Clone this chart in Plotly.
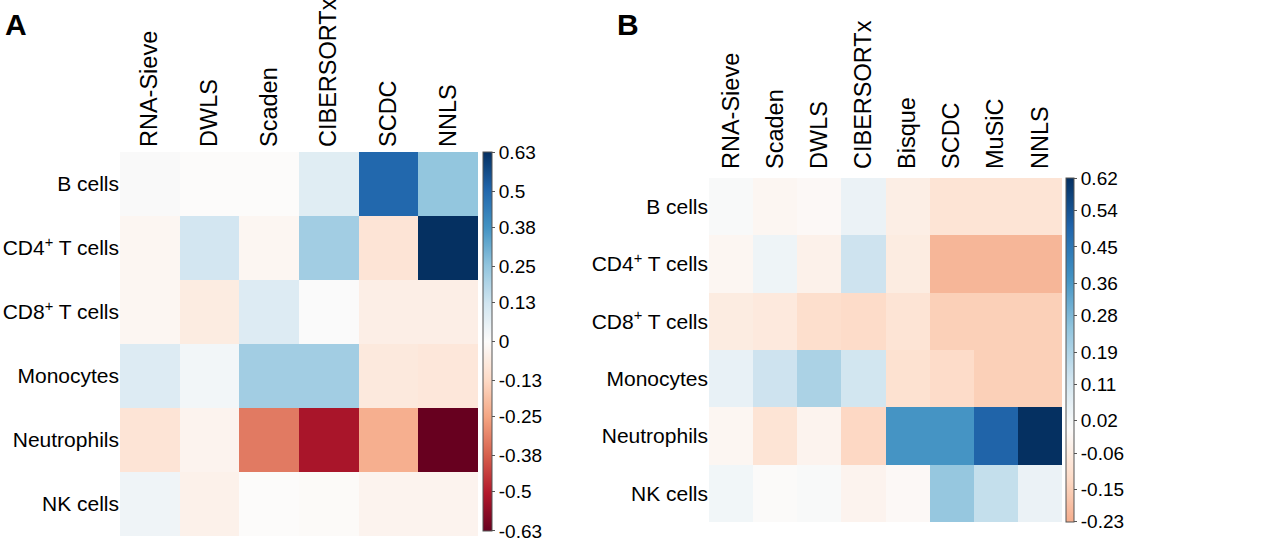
import plotly.graph_objects as go

# ---------------- data ----------------
cell_types = ["B cells", "CD4<sup>+</sup> T cells", "CD8<sup>+</sup> T cells",
              "Monocytes", "Neutrophils", "NK cells"]

methods_a = ["RNA-Sieve", "DWLS", "Scaden", "CIBERSORTx", "SCDC", "NNLS"]
values_a = [
    [0.01, 0.00, 0.00, 0.08, 0.50, 0.25],
    [-0.02, 0.12, -0.02, 0.22, -0.09, 0.63],
    [-0.02, -0.06, 0.09, 0.005, -0.05, -0.05],
    [0.09, 0.03, 0.22, 0.22, -0.07, -0.08],
    [-0.09, -0.03, -0.33, -0.52, -0.23, -0.63],
    [0.04, -0.04, 0.00, -0.005, -0.03, -0.03],
]
ticks_a = [-0.63, -0.5, -0.38, -0.25, -0.13, 0, 0.13, 0.25, 0.38, 0.5, 0.63]

methods_b = ["RNA-Sieve", "Scaden", "DWLS", "CIBERSORTx", "Bisque", "SCDC", "MuSiC", "NNLS"]
values_b = [
    [0.01, -0.02, -0.01, 0.05, -0.05, -0.09, -0.09, -0.09],
    [-0.02, 0.04, -0.04, 0.13, -0.06, -0.21, -0.21, -0.21],
    [-0.06, -0.07, -0.11, -0.12, -0.09, -0.15, -0.15, -0.15],
    [0.06, 0.13, 0.20, 0.12, -0.10, -0.12, -0.15, -0.15],
    [-0.02, -0.09, -0.03, -0.13, 0.37, 0.37, 0.50, 0.62],
    [0.03, 0.00, 0.01, -0.03, -0.01, 0.24, 0.15, 0.05],
]
ticks_b = [-0.23, -0.15, -0.06, 0.02, 0.11, 0.19, 0.28, 0.36, 0.45, 0.54, 0.62]

# ---------------- colour scale (matplotlib RdBu, whiter centre) ----------------
RDBU = ["#67001f", "#b2182b", "#d6604d", "#f4a582", "#fddbc7", "#fcfbfa",
        "#d1e5f0", "#92c5de", "#4393c3", "#2166ac", "#053061"]


def hex2rgb(h):
    return tuple(int(h[i:i + 2], 16) for i in (1, 3, 5))


def sample(t):
    n = len(RDBU) - 1
    p = min(max(t, 0), 1) * n
    i = min(int(p), n - 1)
    f = p - i
    a, b = hex2rgb(RDBU[i]), hex2rgb(RDBU[i + 1])
    c = [round(a[k] + (b[k] - a[k]) * f) for k in range(3)]
    return f"rgb({c[0]},{c[1]},{c[2]})"


def scale(lo, hi, steps=60):
    return [[k / steps, sample(lo + (hi - lo) * k / steps)] for k in range(steps + 1)]


scale_a = scale(0, 1)
vmax_b = 0.62
scale_b = scale((ticks_b[0] + vmax_b) / (2 * vmax_b), 1)

FONT = "Liberation Sans, Arial, Helvetica, sans-serif"
W, H = 1280, 539
EPS = 0.0005


def fx(px):
    return px / W


def fy(py):
    return 1 - py / H


fig = go.Figure()

fig.add_trace(go.Heatmap(
    z=values_a, x=methods_a, y=cell_types, xaxis="x", yaxis="y",
    colorscale=scale_a, zmin=ticks_a[0] - EPS, zmax=ticks_a[-1] + EPS,
    colorbar=dict(
        x=fx(483), xanchor="left", xpad=0, ypad=0,
        y=(fy(152) + fy(531)) / 2, yanchor="middle",
        len=(531 - 152) / H, thickness=9,
        outlinewidth=1, outlinecolor="#555",
        tickvals=ticks_a, ticktext=[("%g" % v) for v in ticks_a],
        ticks="outside", ticklen=3, tickcolor="#555",
        ticklabeloverflow="allow",
        tickfont=dict(size=19, color="black", family=FONT),
    ),
))

fig.add_trace(go.Heatmap(
    z=values_b, x=methods_b, y=cell_types, xaxis="x2", yaxis="y2",
    colorscale=scale_b, zmin=ticks_b[0] - EPS, zmax=vmax_b + EPS,
    colorbar=dict(
        x=fx(1066), xanchor="left", xpad=0, ypad=0,
        y=(fy(178) + fy(522)) / 2, yanchor="middle",
        len=(522 - 178) / H, thickness=8,
        outlinewidth=1, outlinecolor="#555",
        tickvals=ticks_b, ticktext=[("%g" % v) for v in ticks_b],
        ticks="outside", ticklen=3, tickcolor="#555",
        ticklabeloverflow="allow",
        tickfont=dict(size=19, color="black", family=FONT),
    ),
))

base = dict(showgrid=False, zeroline=False, showline=False, ticks="", automargin=False)

fig.update_layout(
    width=W, height=H,
    margin=dict(l=0, r=0, t=0, b=0, autoexpand=False),
    paper_bgcolor="white", plot_bgcolor="white",
    font=dict(family=FONT, color="black"),
    xaxis=dict(domain=[fx(120), fx(478)], anchor="y", side="top", tickangle=-90,
               ticklabelstandoff=4,
               tickfont=dict(size=23.5, color="black", family=FONT), **base),
    yaxis=dict(domain=[fy(536), fy(152)], anchor="x", autorange="reversed",
               tickfont=dict(size=21, color="black", family=FONT), **base),
    xaxis2=dict(domain=[fx(709), fx(1062)], anchor="y2", side="top", tickangle=-90,
                ticklabelstandoff=8,
                tickfont=dict(size=23.5, color="black", family=FONT), **base),
    yaxis2=dict(domain=[fy(522), fy(178)], anchor="x2", autorange="reversed",
                tickfont=dict(size=21, color="black", family=FONT), **base),
    annotations=[
        dict(text="<b>A</b>", x=fx(3), y=fy(6), xref="paper", yref="paper",
             xanchor="left", yanchor="top", showarrow=False,
             font=dict(size=30, family=FONT, color="black")),
        dict(text="<b>B</b>", x=fx(615), y=fy(6), xref="paper", yref="paper",
             xanchor="left", yanchor="top", showarrow=False,
             font=dict(size=30, family=FONT, color="black")),
    ],
)

fig.write_html("out.html")
